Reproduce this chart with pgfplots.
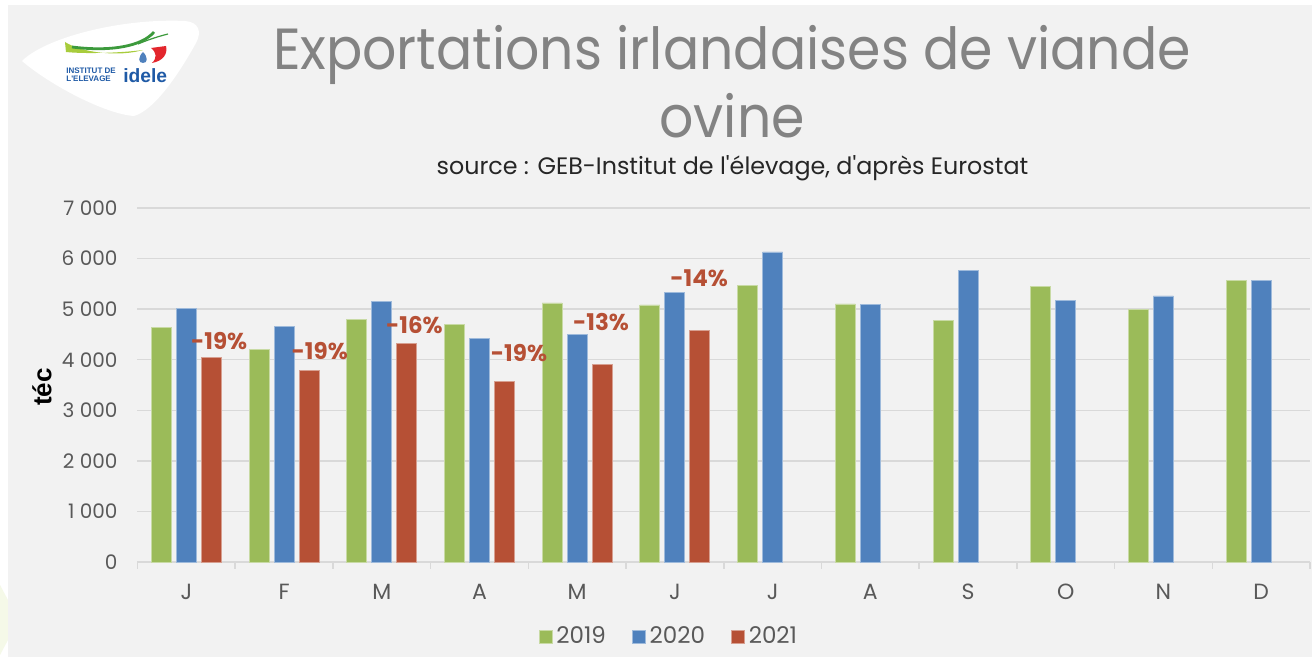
\documentclass[border=0pt]{standalone}
\usepackage{pgfplots}
\pgfplotsset{compat=1.18}
\usepackage{fontspec}
\setmainfont{Poppins}
\newfontfamily\titlefont{Poppins}[FakeStretch=0.926]
\newfontfamily\arial{Liberation Sans}
\definecolor{bg}{HTML}{F2F2F2}
\definecolor{cg}{HTML}{9BBB59}
\definecolor{cb}{HTML}{4F81BD}
\definecolor{cr}{HTML}{B65035}
\definecolor{gridc}{HTML}{D9D9D9}
\definecolor{tickc}{HTML}{595959}
\definecolor{titlec}{HTML}{838383}
\definecolor{logoblue}{HTML}{1F5AA6}
\definecolor{lgreen}{HTML}{A8CC3C}
\definecolor{dgreen}{HTML}{3C9A3C}
\definecolor{logored}{HTML}{E3262D}
\begin{document}
\begin{tikzpicture}
\useasboundingbox (-68.75pt,-48.5pt) rectangle (588.25pt,281pt);
\begin{scope}[x=0.5pt,y=-0.5pt,shift={(-68.75pt,281pt)}]
\fill[white] (0,0) rectangle (1314,659);
\fill[bg] (8,5.5) rectangle (1312,657);
% faint decoration bottom-left
\fill[lgreen!12] (0,585) -- (8,600) -- (8,640) -- (0,655) -- cycle;
% logo
\fill[white] (22,61) .. controls (45,38) and (120,18) .. (185,21) .. controls (199,22) and (202,32) .. (196,43) .. controls (180,72) and (155,110) .. (134,116) .. controls (105,114) and (50,85) .. (22,61) -- cycle;
\fill[lgreen] (65,42) .. controls (82,53) and (120,57) .. (143,50) .. controls (120,53) and (85,54) .. (66,52) -- cycle;
\draw[dgreen, line width=1.4pt] (72,47) .. controls (112,52) and (142,46) .. (154,32);
\draw[dgreen, line width=0.6pt] (138,44) .. controls (150,39) and (160,36) .. (168,34);
\fill[logored] (151,48) -- (166,46) .. controls (168,54) and (163,61) .. (152,63) .. controls (157,58) and (157,53) .. cycle;
\fill[cb] (143,52) .. controls (138,57) and (138,63) .. (143,63) .. controls (148,63) and (148,57) .. (143,52);
\node[anchor=base west, inner sep=0pt, font=\arial\bfseries\fontsize{4}{4.5}\selectfont, text=logoblue] at (66,74) {INSTITUT DE};
\node[anchor=base west, inner sep=0pt, font=\arial\bfseries\fontsize{4}{4.5}\selectfont, text=logoblue] at (66,82) {L'ELEVAGE};
\node[anchor=base west, inner sep=0pt, font=\arial\bfseries\fontsize{9.6}{10}\selectfont, text=logoblue] at (123,83) {idele};
% titles
\node[anchor=base, inner sep=0pt, text=titlec, font=\titlefont\fontsize{29}{34}\selectfont] at (732,70) {Exportations irlandaises de viande};
\node[anchor=base, inner sep=0pt, text=titlec, font=\titlefont\fontsize{29}{34}\selectfont] at (732,138) {ovine};
\node[anchor=base, inner sep=0pt, text=black!85, font=\fontsize{11.9}{13}\selectfont] at (732.5,175) {source : GEB-Institut de l\textquotesingle élevage, d\textquotesingle après Eurostat};
\node[rotate=90, inner sep=0pt, font=\arial\bfseries\fontsize{13}{15}\selectfont] at (42,387) {téc};
\end{scope}
\begin{axis}[
  at={(0pt,0pt)}, anchor=south west,
  width=586.25pt, height=177pt, scale only axis,
  ybar=2.5pt, bar width=10pt,
  xmin=-0.5, xmax=11.5, ymin=0, ymax=7000,
  xtick={0,...,11}, xticklabels={J,F,M,A,M,J,J,A,S,O,N,D},
  minor xtick={-0.5,0.5,...,11.5},
  ytick={0,1000,...,7000},
  scaled y ticks=false,
  ymajorgrids, grid style={gridc, line width=0.75pt},
  axis x line*=bottom, axis y line*=left,
  x axis line style={gridc, line width=0.75pt, -},
  y axis line style={draw=none},
  tick align=outside,
  major tick length=0pt,
  minor tick length=3.5pt,
  minor x tick style={gridc, line width=0.75pt},
  tick label style={text=tickc},
  xticklabel style={font=\fontsize{11}{13}\selectfont, yshift=-7.5pt},
  yticklabel style={font=\fontsize{10}{12}\selectfont, xshift=-6.5pt},
  /pgf/number format/assume math mode=true,
  /pgf/number format/1000 sep={\ },
  clip=false,
  legend style={at={(0.454,-0.211)}, anchor=center, draw=none, fill=none,
    font=\fontsize{11.5}{13}\selectfont, text=tickc,
    /tikz/every even column/.append style={column sep=11pt}},
  legend columns=-1,
  legend image code/.code={\fill[#1] (0pt,-3.25pt) rectangle (6.5pt,3.25pt);},
]
\addplot[fill=cg, draw=cg!55!white, line width=0.4pt] coordinates {
 (0,4630) (1,4210) (2,4805) (3,4700) (4,5122) (5,5082)
 (6,5464) (7,5102) (8,4772) (9,5451) (10,4990) (11,5576)};
\addplot[fill=cb, draw=cb!55!white, line width=0.4pt] coordinates {
 (0,5017) (1,4660) (2,5161) (3,4423) (4,4495) (5,5333)
 (6,6130) (7,5096) (8,5774) (9,5175) (10,5260) (11,5576)};
\addplot[fill=cr, draw=cr!55!white, line width=0.4pt] coordinates {
 (0,4040) (1,3790) (2,4317) (3,3579) (4,3909) (5,4582)};
\legend{2019,2020,2021}
\begin{scope}[font=\bfseries\fontsize{11.5}{13}\selectfont, text=cr]
\node at (axis cs:0.336,4370) {-19\%};
\node at (axis cs:1.365,4172) {-19\%};
\node at (axis cs:2.334,4687) {-16\%};
\node at (axis cs:3.404,4133) {-19\%};
\node at (axis cs:4.244,4752) {-13\%};
\node at (axis cs:5.248,5616) {-14\%};
\end{scope}
\end{axis}
\end{tikzpicture}
\end{document}
